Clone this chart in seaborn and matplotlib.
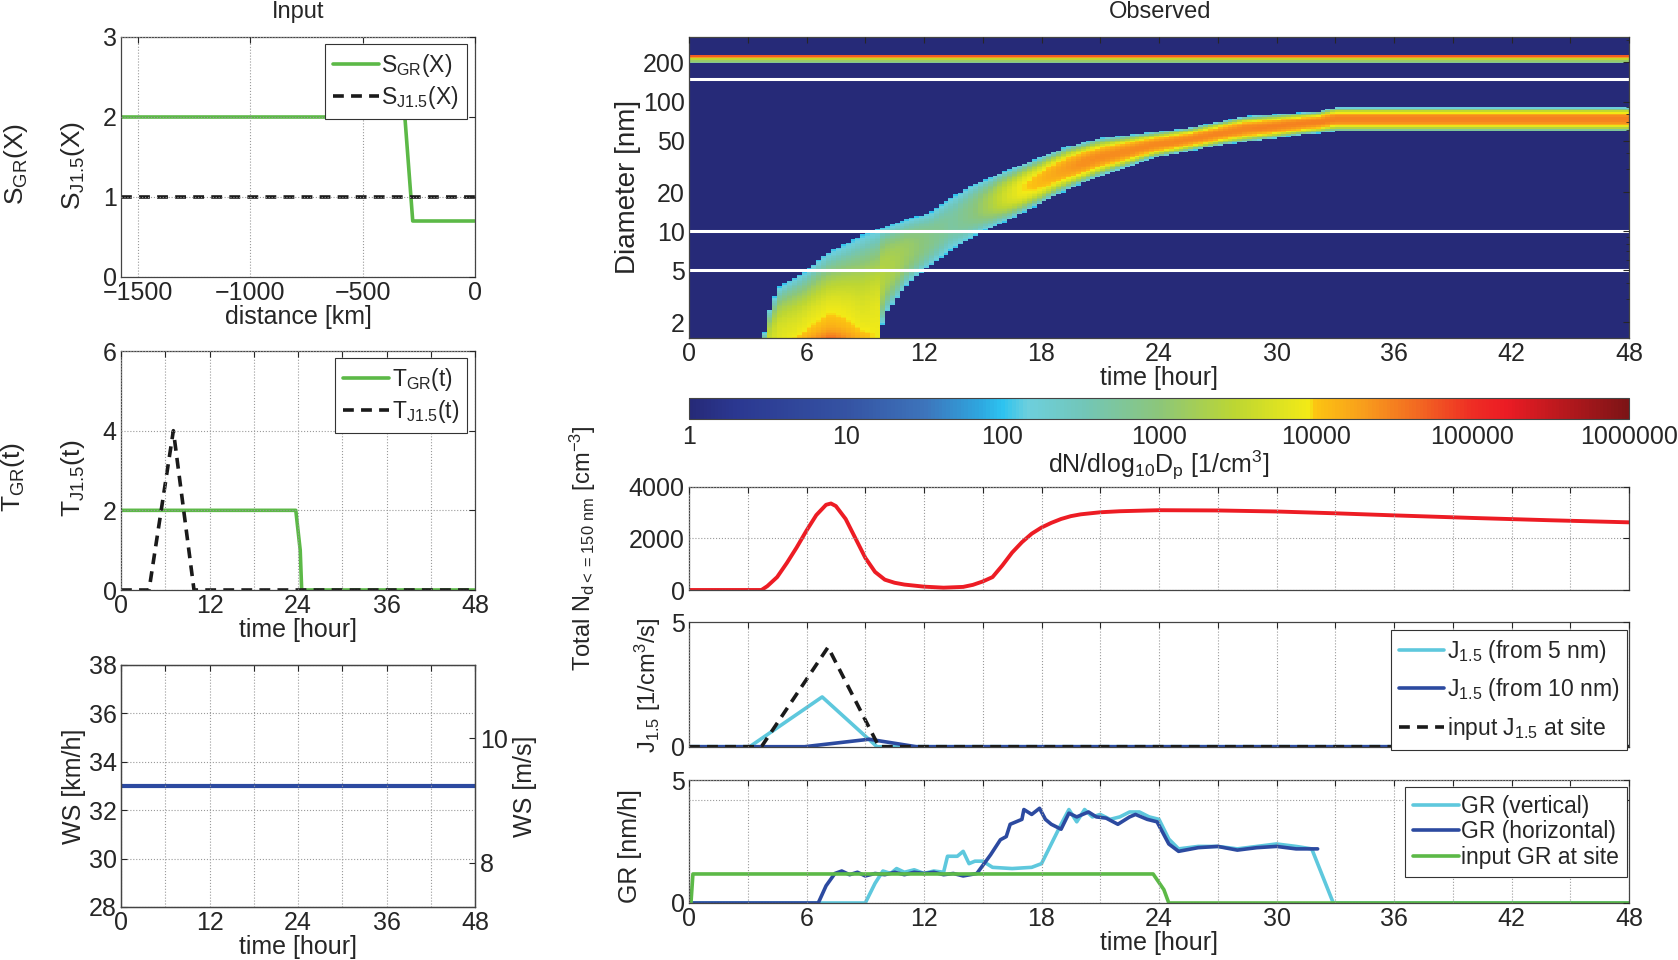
import numpy as np
import matplotlib
matplotlib.use("Agg")
import matplotlib.pyplot as plt
import seaborn as sns
from matplotlib.colors import LinearSegmentedColormap, LogNorm
from matplotlib.lines import Line2D

# ---------------- input panels ----------------
s_dist = [-1575, -312, -277, 0]
s_gr = [2, 2, 0.7, 0.7]
s_j_dist = [-1575, 0]
s_j = [1, 1]

tgr_time = [0, 23.7, 24.3, 24.5, 48]
tgr = [2, 2, 1, 0, 0]
tj_time = [0, 3.8, 7.1, 9.9, 48]
tj = [0, 0, 4, 0, 0]

ws_time = [0, 48]
ws_kmh = [33, 33]

# ---------------- observed: size distribution ----------------
# upper and lower edge of the growing mode (time [h], diameter [nm])
hm_hi_t = [3.83, 3.97, 4.22, 4.65, 6.0, 7.03, 9.24, 11.1, 12.3, 13.2, 14.35, 15.9,
           17.6, 19.3, 21.0, 25.5, 28.4, 32.1, 33.0, 48]
hm_hi_d = [1.5, 2.09, 2.81, 3.78, 5.0, 6.82, 10.0, 12.3, 13.9, 17.5, 22.2, 28.1,
           35.6, 45.1, 52.3, 62.5, 76.7, 83.7, 90, 90]
hm_lo_t = [3.83, 4.65, 6.0, 7.03, 9.24, 9.84, 9.85, 10.1, 11.1, 12.0, 13.2, 15.0,
           16.4, 17.6, 18.9, 20.1, 21.0, 23.7, 27.3, 31.3, 33.0, 48]
hm_lo_d = [0.8, 0.55, 0.45, 0.33, 0.25, 0.24, 1.86, 2.36, 3.78, 5.0, 6.82, 10.0,
           12.3, 15.4, 19.5, 23.5, 26.5, 36.8, 46.6, 55.5, 59, 59]
# log10 dN/dlogDp on the ridge of the mode
hm_pk_t = [3.83, 4.6, 5.5, 7.2, 8.8, 9.84, 9.85, 11.0, 12.5, 13.5, 14.5, 16.0, 17.0,
           18.5, 20.0, 24.0, 33.0, 48]
hm_pk = [3.5, 3.85, 4.05, 4.7, 4.1, 3.9, 3.4, 3.2, 2.85, 2.7, 2.95, 3.6, 3.95,
         4.2, 4.4, 4.45, 4.5, 4.5]
# share of the sharp nucleation core at the bottom of the mode
hm_core_t = [3.83, 5.5, 7.2, 9.0, 9.84, 9.85, 48]
hm_core = [0.0, 0.12, 0.25, 0.12, 0.0, 0.0, 0.0]
hm_edge = 2.0
# pre-existing mode near 200 nm
acc_d = [198, 203, 208, 213, 218, 223, 228]
acc_lv = [2.8, 3.0, 3.2, 3.6, 4.3, 4.7, 4.8]
guide_d = [5, 10, 150]

cb_ticks = [1, 10, 100, 1000, 10000, 100000, 1000000]
cb_pos = [0.0, 0.05, 0.167, 0.25, 0.31, 0.333, 0.36, 0.42, 0.5, 0.58, 0.66, 0.667,
          0.72, 0.78, 0.833, 0.87, 1.0]
cb_cols = ["#262a78", "#2b3891", "#3553a3", "#3d74bb", "#2ea8e0", "#2dc3f0", "#6dcfdd",
           "#72c6b8", "#8cc67a", "#bcd633", "#f3ea16", "#fcc412", "#f89c1c", "#f26522",
           "#ee2e24", "#ec1c24", "#7d1416"]

# ---------------- observed: time series ----------------
tot_time = [0, 3.7, 4.0, 4.5, 5.0, 5.5, 6.0, 6.5, 7.0, 7.25, 7.5, 8.0, 8.5, 9.0, 9.5,
            10.0, 10.5, 11.0, 12.0, 13.0, 14.0, 14.5, 15.0, 15.5, 16.0, 16.5, 17.0,
            17.5, 18.0, 18.5, 19.0, 19.5, 20.0, 21.0, 22.0, 24.0, 27.0, 30.0, 33.0,
            36.0, 40.0, 44.0, 48.0]
tot_n = [0, 0, 150, 500, 1050, 1650, 2300, 2900, 3300, 3350, 3250, 2750, 2000, 1250,
         700, 400, 280, 210, 130, 90, 120, 200, 330, 500, 950, 1450, 1850, 2180, 2420,
         2600, 2750, 2860, 2930, 3010, 3050, 3090, 3080, 3040, 2970, 2890, 2790, 2700,
         2620]

j5_time = [0, 3.1, 6.8, 9.6, 48]
j5 = [0, 0, 2.0, 0, 0]
j10_time = [0, 5.9, 9.2, 11.6, 48]
j10 = [0, 0, 0.3, 0, 0]
jin_time = [0, 3.7, 7.1, 9.7, 48]
jin = [0, 0, 4, 0, 0]

grv_time = [0, 9.0, 9.5, 9.9, 10.3, 10.6, 11.0, 11.5, 12.0, 12.5, 13.0, 13.2, 13.7,
            14.0, 14.3, 14.6, 15.0, 15.5, 16.5, 17.5, 18.0, 18.5, 19.0, 19.4, 19.8,
            20.2, 20.6, 21.0, 21.5, 22.0, 22.5, 23.0, 23.5, 24.0, 24.5, 25.0, 26.0,
            27.0, 28.0, 29.0, 30.0, 31.0, 31.8, 32.9, 48]
grv = [0, 0, 0.8, 1.3, 1.2, 1.4, 1.25, 1.35, 1.2, 1.3, 1.25, 1.9, 1.9, 2.1, 1.6, 1.7,
       1.7, 1.45, 1.4, 1.45, 1.6, 2.4, 3.2, 3.8, 3.3, 3.8, 3.5, 3.6, 3.4, 3.5, 3.7, 3.7,
       3.5, 3.4, 2.6, 2.2, 2.3, 2.3, 2.2, 2.3, 2.4, 2.3, 2.2, 0, 0]
grh_time = [0, 6.6, 7.0, 7.45, 7.8, 8.2, 8.6, 9.0, 9.5, 10.0, 10.5, 11.0, 11.5, 12.0,
            12.5, 13.0, 13.5, 14.0, 14.7, 15.4, 15.9, 16.2, 16.4, 17.0, 17.1, 17.5,
            17.9, 18.2, 18.5, 19.0, 19.4, 19.8, 20.4, 20.8, 21.3, 21.9, 22.5, 22.8,
            23.4, 23.9, 24.5, 25.0, 26.0, 27.0, 28.0, 29.0, 30.0, 31.0, 32.1]
grh = [0, 0, 0.7, 1.2, 1.3, 1.15, 1.25, 1.1, 1.2, 1.15, 1.25, 1.15, 1.25, 1.2, 1.25,
       1.15, 1.2, 1.1, 1.2, 1.96, 2.57, 2.7, 3.2, 3.4, 3.8, 3.6, 3.85, 3.4, 3.2, 3.0,
       3.65, 3.5, 3.7, 3.5, 3.45, 3.2, 3.5, 3.6, 3.4, 3.3, 2.4, 2.1, 2.25, 2.3, 2.15,
       2.25, 2.3, 2.2, 2.2]
grin_time = [0.1, 0.2, 23.7, 24.25, 24.5, 48]
grin = [0, 1.18, 1.18, 0.54, 0, 0]

GREEN = "#5cb947"
LBLUE = "#5ec8dd"
DBLUE = "#2c4aa0"
RED = "#ed1c24"
BLACK = "#1a1a1a"

sns.set_style("white")
plt.rcParams["font.family"] = ["Liberation Sans", "DejaVu Sans"]
plt.rcParams["mathtext.default"] = "regular"
plt.rcParams["lines.dashed_pattern"] = [3.0, 2.0]
plt.rcParams["axes.edgecolor"] = "#444444"
plt.rcParams["axes.linewidth"] = 0.9
FS = 18
LFS = 16.5

W, H = 1678, 960
fig = plt.figure(figsize=(W / 100, H / 100), dpi=100)


def box(x0, y0, x1, y1):
    return fig.add_axes([x0 / W, 1 - y1 / H, (x1 - x0) / W, (y1 - y0) / H])


def style(ax, grid=True):
    ax.tick_params(direction="in", top=True, right=True, labelsize=FS, length=4,
                   width=0.8, pad=3)
    if grid:
        ax.grid(True, ls=":", color="#9a9a9a", lw=0.8)
    ax.set_axisbelow(False)


def line(ax, x, y, color, lw=2.6, ls="-"):
    sns.lineplot(x=x, y=y, ax=ax, color=color, lw=lw, ls=ls,
                 sort=False, estimator=None, legend=False)


def legend(ax, entries, anchor, spacing):
    hs = [Line2D([], [], color=c, lw=2.6, ls=ls) for c, ls, _ in entries]
    lg = ax.legend(hs, [t for _, _, t in entries], loc="upper right",
                   bbox_to_anchor=anchor, borderaxespad=0, fontsize=LFS, frameon=True,
                   fancybox=False, framealpha=1, edgecolor="#333333", handlelength=2.0,
                   handletextpad=0.1, labelspacing=spacing, borderpad=0.35)
    lg.get_frame().set_linewidth(0.8)


def text(x, y, s, fs, rot=0):
    fig.text(x / W, 1 - y / H, s, rotation=rot, ha="center", va="center", fontsize=fs)


def time_ticks(ax, step, every, labels=True):
    vals = np.arange(0, 49, step)
    ax.set_xticks(vals)
    if labels:
        ax.set_xticklabels([str(v) if v % every == 0 else "" for v in vals])
    else:
        ax.set_xticklabels([])


# ---- S(X) ----
ax1 = box(121, 37, 475, 277)
line(ax1, s_dist, s_gr, GREEN)
line(ax1, s_j_dist, s_j, BLACK, ls="--")
ax1.set_xlim(-1575, 0)
ax1.set_ylim(0, 3)
ax1.set_xticks([-1500, -1000, -500, 0])
ax1.set_xticklabels(["\u22121500", "\u22121000", "\u2212500", "0"])
ax1.set_yticks([0, 1, 2, 3])
style(ax1)
ax1.set_xlabel("distance [km]", fontsize=FS, labelpad=0)
ax1.set_ylabel("")
legend(ax1, [(GREEN, "-", "S$_{GR}$(X)"), (BLACK, "--", "S$_{J1.5}$(X)")],
       (0.977, 0.971), 0.2)
text(298, 12, "Input", 17)
text(16, 164, "S$_{GR}$(X)", 19, 90)
text(73, 165, "S$_{J1.5}$(X)", 19, 90)

# ---- T(t) ----
ax2 = box(121, 351, 475, 590)
line(ax2, tgr_time, tgr, GREEN)
line(ax2, tj_time, tj, BLACK, ls="--")
ax2.set_xlim(0, 48)
ax2.set_ylim(0, 6)
time_ticks(ax2, 6, 12)
ax2.set_yticks([0, 2, 4, 6])
style(ax2)
ax2.set_xlabel("time [hour]", fontsize=FS, labelpad=0)
ax2.set_ylabel("")
legend(ax2, [(GREEN, "-", "T$_{GR}$(t)"), (BLACK, "--", "T$_{J1.5}$(t)")],
       (0.977, 0.971), 0.2)
text(13, 477, "T$_{GR}$(t)", 19, 90)
text(73, 478, "T$_{J1.5}$(t)", 19, 90)

# ---- WS ----
ax3 = box(121, 665, 475, 907)
line(ax3, ws_time, ws_kmh, DBLUE, lw=3)
ax3.set_xlim(0, 48)
ax3.set_ylim(28, 38)
time_ticks(ax3, 6, 12)
ax3.set_yticks(np.arange(28, 39, 2))
style(ax3)
ax3.tick_params(right=False)
ax3.set_xlabel("time [hour]", fontsize=FS, labelpad=0)
ax3.set_ylabel("WS [km/h]", fontsize=FS, labelpad=2)
ax3b = ax3.twinx()
ax3b.set_ylim(7.295, 11.17)
ax3b.set_yticks([8, 10])
ax3b.tick_params(direction="in", labelsize=FS, length=4, width=0.8)
ax3b.set_ylabel("WS [m/s]", fontsize=FS, labelpad=4)
ax3b.grid(False)

# ---- size distribution ----
axh = box(689, 36.7, 1629, 338.3)
t_edges = np.arange(0, 48.01, 0.25)
ld_edges = np.linspace(np.log10(1.5), 2.5, 181)
tc = 0.5 * (t_edges[:-1] + t_edges[1:])
ldc = 0.5 * (ld_edges[:-1] + ld_edges[1:])
lo = np.interp(tc, hm_lo_t, np.log10(hm_lo_d))
hi = np.interp(tc, hm_hi_t, np.log10(hm_hi_d))
pk = np.interp(tc, hm_pk_t, hm_pk)
core = np.interp(tc, hm_core_t, hm_core)
cen = 0.5 * (lo + hi)
hw = 0.5 * (hi - lo)
u = np.abs(ldc[:, None] - cen[None, :]) / hw[None, :]
shape = core[None, :] * np.exp(-u / 0.1) + (1 - core[None, :]) * (1 - u ** 2.5)
lv = hm_edge + (pk[None, :] - hm_edge) * shape
inside = (u <= 1) & (tc[None, :] >= hm_hi_t[0])
lv = np.where(inside, lv, 0.0)
dc = 10 ** ldc
acc_rows = (dc >= acc_d[0] - 1) & (dc <= acc_d[-1] + 2)
lv[acc_rows, :] = np.interp(dc[acc_rows], acc_d, acc_lv)[:, None]
cmap = LinearSegmentedColormap.from_list("obs", list(zip(cb_pos, cb_cols)))
norm = LogNorm(1, 1e6)
mesh = axh.pcolormesh(t_edges, 10 ** ld_edges, 10 ** lv, cmap=cmap, norm=norm,
                      shading="flat", rasterized=True)
axh.set_yscale("log")
for d in guide_d:
    axh.axhline(d, color="white", lw=2.2)
axh.set_xlim(0, 48)
axh.set_ylim(1.5, 316)
axh.set_yticks([2, 5, 10, 20, 50, 100, 200])
axh.set_yticklabels(["2", "5", "10", "20", "50", "100", "200"])
time_ticks(axh, 3, 6)
style(axh, grid=False)
axh.tick_params(which="minor", direction="in", right=True, length=2.5)
axh.set_xlabel("time [hour]", fontsize=FS, labelpad=0)
text(1160, 12, "Observed", 17)
text(628, 187, "Diameter [nm]", 20, 90)

cax = box(689, 398.3, 1629, 419.3)
cb = fig.colorbar(mesh, cax=cax, orientation="horizontal")
cb.set_ticks(cb_ticks)
cb.set_ticklabels([str(v) for v in cb_ticks])
cb.ax.minorticks_off()
cb.ax.tick_params(direction="in", length=15, width=0.6, color="#222222", labelsize=FS, pad=4)
cb.outline.set_linewidth(0.8)
cb.set_label("dN/dlog$_{10}$D$_p$ [1/cm$^3$]", fontsize=FS, labelpad=0)

# ---- total N ----
axn = box(689, 486.7, 1629, 590)
line(axn, tot_time, tot_n, RED, lw=2.8)
axn.set_xlim(0, 48)
axn.set_ylim(0, 4000)
axn.set_yticks([0, 2000, 4000])
time_ticks(axn, 3, 6, labels=False)
style(axn)
axn.set_ylabel("")
text(583, 548, "Total N$_{d<=150\\ nm}$ [cm$^{-3}$]", 17, 90)

# ---- J ----
axj = box(689, 622.3, 1629, 746.7)
line(axj, j5_time, j5, LBLUE)
line(axj, j10_time, j10, DBLUE)
line(axj, jin_time, jin, BLACK, ls="--")
axj.set_xlim(0, 48)
axj.set_ylim(0, 5)
axj.set_yticks([0, 5])
time_ticks(axj, 3, 6, labels=False)
style(axj)
axj.grid(False, axis="y")
axj.set_ylabel("")
legend(axj, [(LBLUE, "-", "J$_{1.5}$ (from 5 nm)"),
             (DBLUE, "-", "J$_{1.5}$ (from 10 nm)"),
             (BLACK, "--", "input J$_{1.5}$ at site")], (0.998, 0.94), 0.5)
text(648, 685, "J$_{1.5}$ [1/cm$^3$/s]", 17, 90)

# ---- GR ----
axg = box(689, 780, 1629, 903)
line(axg, grv_time, grv, LBLUE)
line(axg, grh_time, grh, DBLUE)
line(axg, grin_time, grin, GREEN)
axg.set_xlim(0, 48)
axg.set_ylim(0, 5)
axg.set_yticks([0, 4.2, 5])
axg.set_yticklabels(["0", "", "5"])
time_ticks(axg, 3, 6)
style(axg)
axg.set_xlabel("time [hour]", fontsize=FS, labelpad=0)
axg.set_ylabel("")
legend(axg, [(LBLUE, "-", "GR (vertical)"),
             (DBLUE, "-", "GR (horizontal)"),
             (GREEN, "-", "input GR at site")], (0.998, 0.946), 0.12)
text(630, 846, "GR [nm/h]", 18, 90)

fig.savefig("out.png", dpi=100)
